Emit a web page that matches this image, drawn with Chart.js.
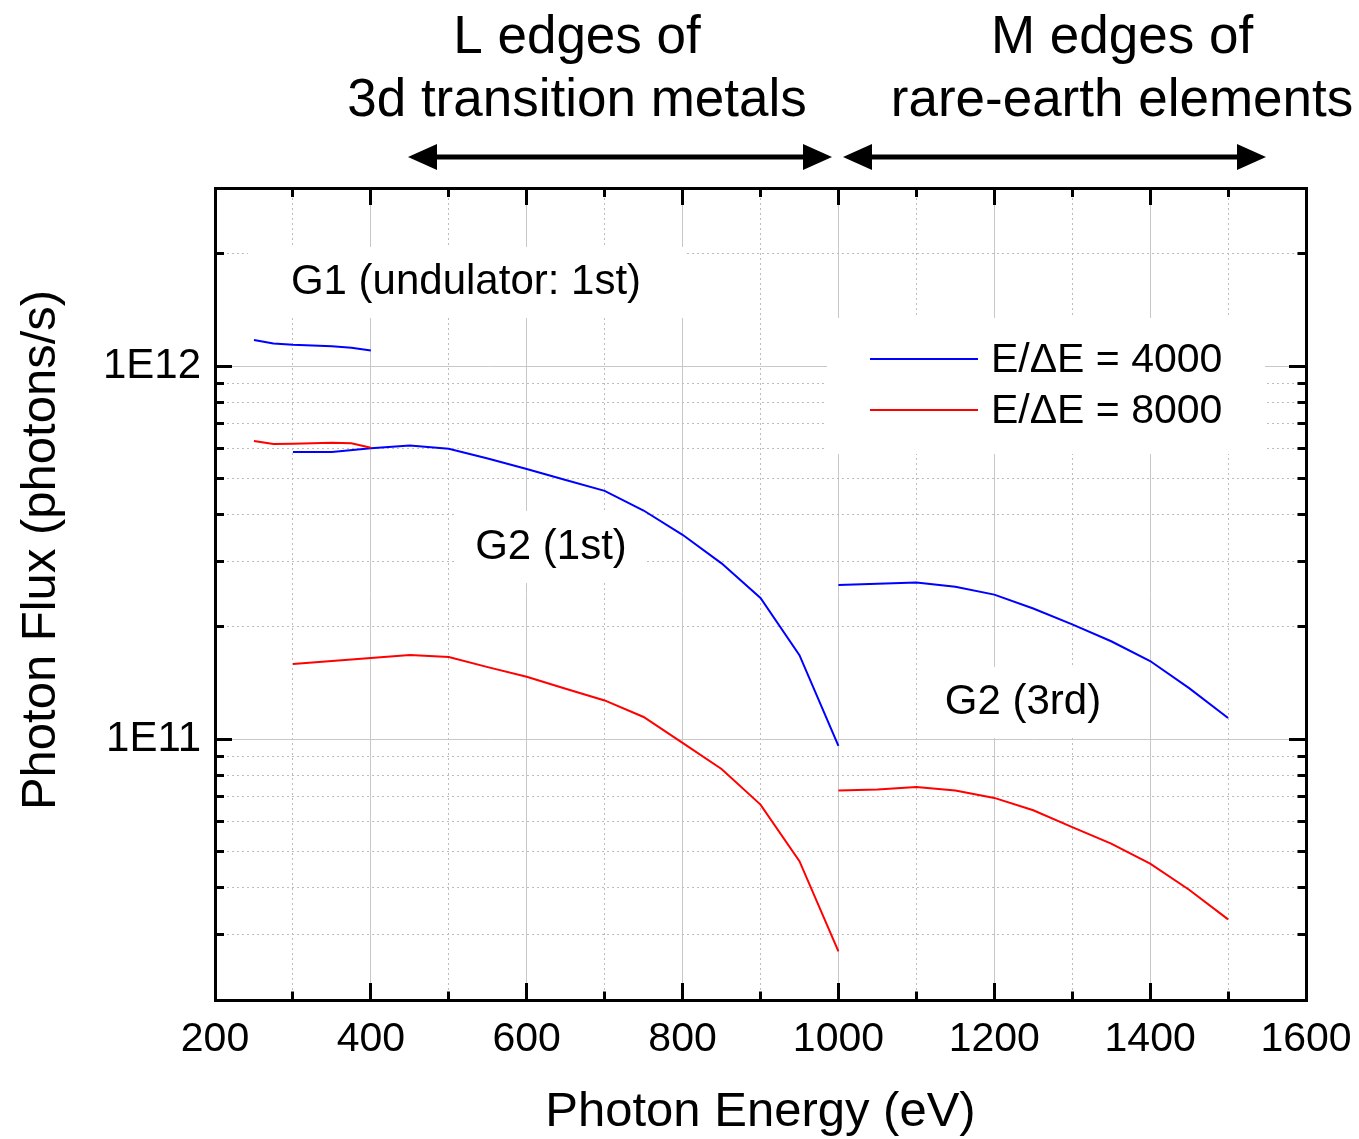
<!DOCTYPE html>
<html><head><meta charset="utf-8">
<script src="https://cdn.jsdelivr.net/npm/chart.js@4.4.1/dist/chart.umd.min.js"></script>
<style>html,body{margin:0;padding:0;background:#fff;overflow:hidden}canvas{display:block}</style>
</head><body>
<canvas id="c" width="1359" height="1139"></canvas>
<script>
// ---------------- data ----------------
const g1Energy        = [250, 275, 300, 350, 375, 400];
const g1Flux4000      = [1.175e12, 1.15e12, 1.14e12, 1.13e12, 1.12e12, 1.10e12];
const g1Flux8000      = [6.30e11, 6.18e11, 6.19e11, 6.23e11, 6.21e11, 6.04e11];

const g2FirstEnergy   = [300, 350, 400, 450, 500, 550, 600, 650, 700, 750, 800, 850, 900, 950, 1000];
const g2FirstFlux4000 = [5.88e11, 5.88e11, 6.02e11, 6.12e11, 6.00e11, 5.65e11, 5.30e11, 4.95e11, 4.63e11, 4.10e11, 3.53e11, 2.96e11, 2.39e11, 1.68e11, 9.6e10];
const g2FirstFlux8000 = [1.59e11, 1.62e11, 1.65e11, 1.68e11, 1.66e11, 1.56e11, 1.47e11, 1.365e11, 1.27e11, 1.147e11, 9.77e10, 8.32e10, 6.68e10, 4.71e10, 2.70e10];

const g2ThirdEnergy   = [1000, 1050, 1100, 1150, 1200, 1250, 1300, 1350, 1400, 1450, 1500];
const g2ThirdFlux4000 = [2.59e11, 2.61e11, 2.63e11, 2.56e11, 2.44e11, 2.24e11, 2.03e11, 1.83e11, 1.62e11, 1.37e11, 1.14e11];
const g2ThirdFlux8000 = [7.29e10, 7.33e10, 7.45e10, 7.29e10, 6.96e10, 6.45e10, 5.81e10, 5.25e10, 4.64e10, 3.95e10, 3.29e10];

const xTickValues = [200, 300, 400, 500, 600, 700, 800, 900, 1000, 1100, 1200, 1300, 1400, 1500, 1600];
const xTickLabels = {200: '200', 400: '400', 600: '600', 800: '800', 1000: '1000', 1200: '1200', 1400: '1400', 1600: '1600'};
const yTickValues = [2e10, 3e10, 4e10, 5e10, 6e10, 7e10, 8e10, 9e10, 1e11, 2e11, 3e11, 4e11, 5e11, 6e11, 7e11, 8e11, 9e11, 1e12, 2e12, 3e12];
const yTickLabels = {1e11: '1E11', 1e12: '1E12'};

const seriesLabels = ['E/\u0394E = 4000', 'E/\u0394E = 8000'];
const seriesColors = ['#0000ff', '#ff0000'];
const xTitle = 'Photon Energy (eV)';
const yTitle = 'Photon Flux (photons/s)';
const regionTextL = ['L edges of', '3d transition metals'];
const regionTextM = ['M edges of', 'rare-earth elements'];
const curveLabels = ['G1 (undulator: 1st)', 'G2 (1st)', 'G2 (3rd)'];

// ---------------- helpers ----------------
const FONT = "'Liberation Sans', Arial, Helvetica, sans-serif";
const X_MIN = 200, X_MAX = 1600, Y_MIN = 2e10, Y_MAX = 3e12;
const toXY = (xs, ys) => xs.map((x, i) => ({x: x, y: ys[i]}));
const isMajorX = v => xTickLabels[v] !== undefined;
const isMajorY = v => yTickLabels[v] !== undefined;

function mkDataset(label, xs, ys, color) {
  return {label, data: toXY(xs, ys), borderColor: color, backgroundColor: color,
          borderWidth: 2, pointRadius: 0, tension: 0, fill: false,
          xAxisID: 'x', yAxisID: 'y'};
}

const TICK_LEN = -17;
const MINOR_NEAR = [10.5, 100];
const MINOR_FAR = [0, 8, 10.5, 100];

function gridColor(isMajor, minV, maxV) {
  return c => {
    const v = c.tick ? c.tick.value : undefined;
    if (v === undefined || v === minV || v === maxV) return 'rgba(0,0,0,0)';
    return isMajor(v) ? '#c8c8c8' : '#bcbcbc';
  };
}
function gridDash(isMajor) {
  return c => (c.tick && !isMajor(c.tick.value)) ? [2, 3] : [];
}
function tickDash(isMajor, pattern) {
  return c => (c.tick && !isMajor(c.tick.value)) ? pattern : [];
}
function zeroPad(s) { s.paddingLeft = 0; s.paddingRight = 0; s.paddingTop = 0; s.paddingBottom = 0; }

// ---------------- annotation plugin ----------------
const annotationPlugin = {
  id: 'annotations',
  beforeDatasetsDraw(chart) {
    const ctx = chart.ctx;
    ctx.save();
    ctx.fillStyle = '#ffffff';
    ctx.fillRect(248, 247, 437, 71);   // G1 label
    ctx.fillRect(455, 511, 192, 72);   // G2 (1st)
    ctx.fillRect(918, 667, 210, 71);   // G2 (3rd)
    ctx.fillRect(827, 318, 438, 136);  // legend
    ctx.fillStyle = '#000';
    ctx.textAlign = 'center';
    ctx.textBaseline = 'middle';
    ctx.font = '42px ' + FONT;
    ctx.fillText(curveLabels[0], 466, 282);
    ctx.fillText(curveLabels[1], 551, 547);
    ctx.fillText(curveLabels[2], 1023, 702);
    const ly = [359, 410];
    ctx.font = '41px ' + FONT;
    for (let i = 0; i < 2; i++) {
      ctx.strokeStyle = seriesColors[i];
      ctx.lineWidth = 2;
      ctx.beginPath();
      ctx.moveTo(870, ly[i]);
      ctx.lineTo(978, ly[i]);
      ctx.stroke();
      ctx.textAlign = 'left';
      ctx.fillStyle = '#000';
      ctx.fillText(seriesLabels[i], 991, ly[i] + 2);
    }
    ctx.restore();
  },
  afterDraw(chart) {
    const ctx = chart.ctx;
    ctx.save();
    ctx.fillStyle = '#000';
    ctx.save();
    ctx.translate(41, 550);
    ctx.rotate(-Math.PI / 2);
    ctx.textAlign = 'center';
    ctx.textBaseline = 'middle';
    ctx.font = '49px ' + FONT;
    ctx.fillText(yTitle, 0, 0);
    ctx.restore();

    ctx.textAlign = 'center';
    ctx.textBaseline = 'alphabetic';
    ctx.font = '53px ' + FONT;
    ctx.fillText(regionTextL[0], 577, 53);
    ctx.fillText(regionTextL[1], 577, 116);
    ctx.fillText(regionTextM[0], 1122, 53);
    ctx.fillText(regionTextM[1], 1122, 116);
    const arrows = [[408, 832], [843, 1266]];
    const ay = 157, hl = 29, hw = 13;
    ctx.strokeStyle = '#000';
    ctx.lineWidth = 5;
    for (const [a, b] of arrows) {
      ctx.beginPath();
      ctx.moveTo(a + hl - 2, ay);
      ctx.lineTo(b - hl + 2, ay);
      ctx.stroke();
      ctx.beginPath();
      ctx.moveTo(a, ay); ctx.lineTo(a + hl, ay - hw); ctx.lineTo(a + hl, ay + hw); ctx.closePath();
      ctx.fill();
      ctx.beginPath();
      ctx.moveTo(b, ay); ctx.lineTo(b - hl, ay - hw); ctx.lineTo(b - hl, ay + hw); ctx.closePath();
      ctx.fill();
    }
    ctx.restore();
  }
};

// ---------------- chart ----------------
Chart.defaults.font.family = FONT;
Chart.defaults.color = '#000';

const commonBorder = {display: true, color: '#000', width: 3};

new Chart(document.getElementById('c'), {
  type: 'line',
  data: {
    datasets: [
      mkDataset(seriesLabels[0] + ' G1', g1Energy, g1Flux4000, seriesColors[0]),
      mkDataset(seriesLabels[1] + ' G1', g1Energy, g1Flux8000, seriesColors[1]),
      mkDataset(seriesLabels[0] + ' G2 1st', g2FirstEnergy, g2FirstFlux4000, seriesColors[0]),
      mkDataset(seriesLabels[1] + ' G2 1st', g2FirstEnergy, g2FirstFlux8000, seriesColors[1]),
      mkDataset(seriesLabels[0] + ' G2 3rd', g2ThirdEnergy, g2ThirdFlux4000, seriesColors[0]),
      mkDataset(seriesLabels[1] + ' G2 3rd', g2ThirdEnergy, g2ThirdFlux8000, seriesColors[1])
    ]
  },
  options: {
    responsive: false,
    animation: false,
    layout: {padding: 0},
    plugins: {legend: {display: false}, tooltip: {enabled: false}},
    scales: {
      x: {
        type: 'linear', position: 'bottom', min: X_MIN, max: X_MAX,
        afterBuildTicks: s => { s.ticks = xTickValues.map(v => ({value: v})); },
        afterFit: s => { s.height = 139; zeroPad(s); },
        ticks: {autoSkip: false, maxRotation: 0, padding: 32, font: {size: 41},
                callback: v => xTickLabels[v] || ''},
        grid: {drawOnChartArea: true, drawTicks: true, tickLength: TICK_LEN, lineWidth: 1,
               color: gridColor(isMajorX, X_MIN, X_MAX), tickColor: '#000', tickWidth: 3,
               tickBorderDash: tickDash(isMajorX, MINOR_NEAR)},
        border: Object.assign({}, commonBorder, {dash: gridDash(isMajorX)}),
        title: {display: true, text: xTitle, font: {size: 49, lineHeight: 1.1}, padding: {top: 0, bottom: 0}}
      },
      xTop: {
        type: 'linear', position: 'top', min: X_MIN, max: X_MAX,
        afterBuildTicks: s => { s.ticks = xTickValues.map(v => ({value: v})); },
        afterFit: s => { s.height = 188; zeroPad(s); },
        ticks: {display: false},
        grid: {drawOnChartArea: false, drawTicks: true, tickLength: TICK_LEN,
               tickColor: '#000', tickWidth: 3, tickBorderDash: tickDash(isMajorX, MINOR_FAR)},
        border: commonBorder
      },
      y: {
        type: 'logarithmic', position: 'left', min: Y_MIN, max: Y_MAX,
        afterBuildTicks: s => { s.ticks = yTickValues.map(v => ({value: v})); },
        afterFit: s => { s.width = 215; zeroPad(s); },
        ticks: {autoSkip: false, padding: 31, font: {size: 42},
                callback: v => yTickLabels[v] || ''},
        grid: {drawOnChartArea: true, drawTicks: true, tickLength: TICK_LEN, lineWidth: 1,
               color: gridColor(isMajorY, Y_MIN, Y_MAX), tickColor: '#000', tickWidth: 3,
               tickBorderDash: tickDash(isMajorY, MINOR_FAR)},
        border: Object.assign({}, commonBorder, {dash: gridDash(isMajorY)}),
        title: {display: false, text: yTitle}
      },
      yRight: {
        type: 'logarithmic', position: 'right', min: Y_MIN, max: Y_MAX,
        afterBuildTicks: s => { s.ticks = yTickValues.map(v => ({value: v})); },
        afterFit: s => { s.width = 53; zeroPad(s); },
        ticks: {display: false},
        grid: {drawOnChartArea: false, drawTicks: true, tickLength: TICK_LEN,
               tickColor: '#000', tickWidth: 3, tickBorderDash: tickDash(isMajorY, MINOR_NEAR)},
        border: commonBorder
      }
    }
  },
  plugins: [annotationPlugin]
});
</script>
</body></html>
